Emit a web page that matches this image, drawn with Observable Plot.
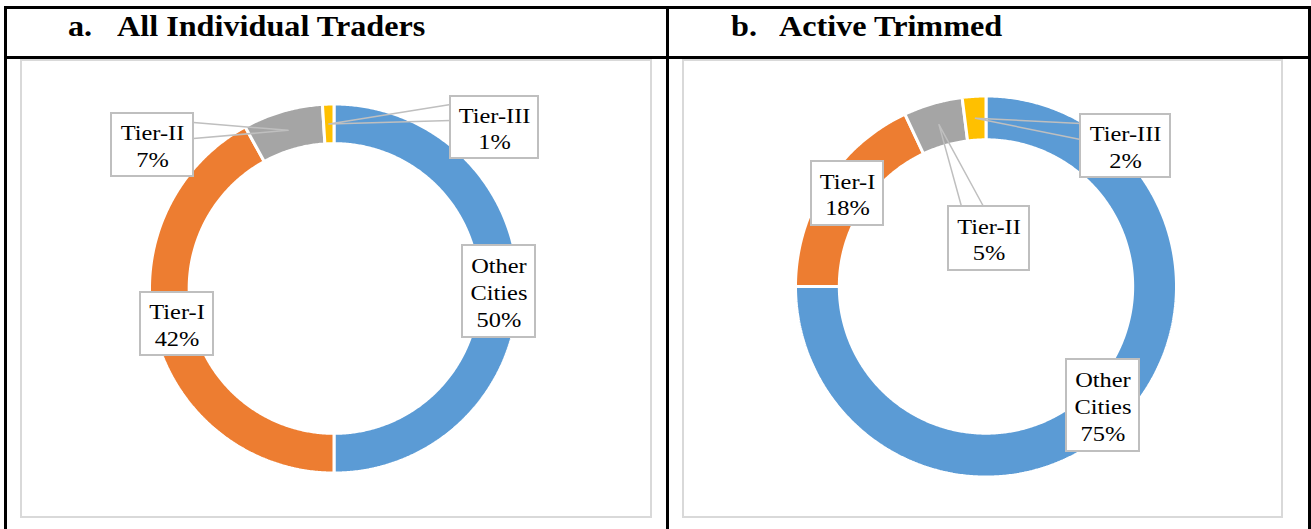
<!DOCTYPE html>
<html>
<head>
<meta charset="utf-8">
<script src="https://cdn.jsdelivr.net/npm/d3@7"></script>
<script src="https://cdn.jsdelivr.net/npm/@observablehq/plot@0.6"></script>
<style>
  html, body { margin: 0; padding: 0; background: #fff; }
  #page { position: relative; width: 1311px; height: 529px; overflow: hidden; font-family: "Liberation Serif", "Times New Roman", serif; }
  .bline { position: absolute; background: #000; }
  .gbox { position: absolute; border: 2px solid #D9D9D9; box-sizing: border-box; }
  .title { position: absolute; font-weight: bold; font-size: 29px; line-height: 1; white-space: nowrap; color: #000; transform: scaleX(1.11); transform-origin: 0 0; }
  .panel { position: absolute; }
</style>
</head>
<body>
<div id="page"></div>
<script>
// ---- data ----
const categories = ["Other Cities", "Tier-I", "Tier-II", "Tier-III"];
const allTraders = [50, 42, 7, 1];
const activeTrimmed = [75, 18, 5, 2];
const colors = ["#5B9BD5", "#ED7D31", "#A5A5A5", "#FFC000"];
const panelLetters = ["a.", "b."];
const panelTitles = ["All Individual Traders", "Active Trimmed"];

// ---- layout (page pixels) ----
const layouts = [
  {
    values: allTraders,
    box: [20, 59, 652, 518],
    letterX: 68, titleX: 117,
    cx: 333.5, cy: 288, r: 184.5, inner: 0.785,
    labels: [
      {box: [462, 245, 535, 337]},
      {box: [140, 292, 213, 355]},
      {box: [111, 113, 193, 176], leader: [[193, 122], [193, 138]]},
      {box: [450, 96, 538, 158], leader: [[450, 104], [450, 120]]}
    ]
  },
  {
    values: activeTrimmed,
    box: [682, 59, 1283, 518],
    letterX: 731, titleX: 779,
    cx: 985.5, cy: 286, r: 190.5, inner: 0.77,
    labels: [
      {box: [1066, 359, 1139, 451]},
      {box: [811, 161, 883, 225]},
      {box: [948, 206, 1029, 270], leader: [[961, 206], [983, 206]]},
      {box: [1080, 114, 1170, 177], leader: [[1080, 123], [1080, 139]]}
    ]
  }
];

const page = document.getElementById("page");
function line(l, t, w, h) {
  const d = document.createElement("div");
  d.className = "bline";
  Object.assign(d.style, {left: l + "px", top: t + "px", width: w + "px", height: h + "px"});
  page.appendChild(d);
}
// table lines
line(4, 6, 1307, 2.5);
line(4, 56, 1307, 2.5);
line(4, 6, 2.5, 523);
line(666, 6, 2.5, 523);
line(1308, 6, 2.5, 523);

layouts.forEach((L, pi) => {
  // titles
  const a = document.createElement("div");
  a.className = "title"; a.textContent = panelLetters[pi];
  a.style.left = L.letterX + "px"; a.style.top = "11.5px";
  page.appendChild(a);
  const t = document.createElement("div");
  t.className = "title"; t.textContent = panelTitles[pi];
  t.style.left = L.titleX + "px"; t.style.top = "11.5px";
  page.appendChild(t);

  const [bx0, by0, bx1, by1] = L.box;
  const W = bx1 - bx0, H = by1 - by0;
  const g = document.createElement("div");
  g.className = "gbox";
  Object.assign(g.style, {left: bx0 + "px", top: by0 + "px", width: W + "px", height: H + "px"});
  page.appendChild(g);

  const cx = L.cx - bx0, cy = L.cy - by0, r = L.r;
  const ux = px => (px - L.cx) / r;
  const uy = py => (L.cy - py) / r;

  const total = d3.sum(L.values);
  let cum = 0;
  const slices = L.values.map((v, i) => {
    const a0 = cum / total * 2 * Math.PI;
    cum += v;
    const a1 = cum / total * 2 * Math.PI;
    const n = Math.max(2, Math.ceil((a1 - a0) / (Math.PI / 360)));
    const pts = [];
    for (let k = 0; k <= n; k++) {
      const a = a0 + (a1 - a0) * k / n;
      pts.push({x: Math.sin(a), y: Math.cos(a)});
    }
    for (let k = n; k >= 0; k--) {
      const a = a0 + (a1 - a0) * k / n;
      pts.push({x: L.inner * Math.sin(a), y: L.inner * Math.cos(a)});
    }
    const mid = (a0 + a1) / 2, rm = (1 + L.inner) / 2;
    return {i, pts, anchor: {x: rm * Math.sin(mid), y: rm * Math.cos(mid)}};
  });

  const labelRows = categories.map((c, i) => {
    const lb = L.labels[i].box;
    return {
      text: c.replace(" ", "\n") + "\n" + L.values[i] + "%",
      x1: ux(lb[0]), x2: ux(lb[2]), y1: uy(lb[1]), y2: uy(lb[3]),
      cx: ux((lb[0] + lb[2]) / 2), cy: uy((lb[1] + lb[3]) / 2)
    };
  });

  const leaders = [];
  L.labels.forEach((lab, i) => {
    if (!lab.leader) return;
    const an = slices[i].anchor;
    const [p, q] = lab.leader;
    leaders.push({x: ux(p[0]), y: uy(p[1]), i});
    leaders.push({x: an.x, y: an.y, i});
    leaders.push({x: ux(q[0]), y: uy(q[1]), i});
  });

  const marks = slices.map(s => Plot.line(s.pts, {
    x: "x", y: "y", curve: "linear-closed",
    fill: colors[s.i], stroke: "#fff", strokeWidth: 3, strokeLinejoin: "miter"
  }));
  marks.push(Plot.line(leaders, {x: "x", y: "y", z: "i", stroke: "#BFBFBF", strokeWidth: 1.5}));
  marks.push(Plot.rect(labelRows, {x1: "x1", x2: "x2", y1: "y1", y2: "y2", fill: "#fff", stroke: "#BFBFBF", strokeWidth: 2}));
  marks.push(Plot.text(labelRows, {
    x: "cx", y: "cy", text: "text", fontSize: 20, lineHeight: 1.33,
    fill: "#000", fontFamily: "Liberation Serif, Times New Roman, serif", textAnchor: "middle", lineAnchor: "middle",
    className: "lbl"
  }));

  const chart = Plot.plot({
    width: W, height: H, margin: 0,
    x: {domain: [-1, 1], range: [cx - r, cx + r], axis: null},
    y: {domain: [-1, 1], range: [cy + r, cy - r], axis: null},
    style: {background: "transparent", overflow: "visible"},
    marks
  });
  chart.classList.add("panel");
  Object.assign(chart.style, {left: bx0 + "px", top: by0 + "px"});
  page.appendChild(chart);

  // widen label glyphs horizontally, as in the reference, around each label's centre
  chart.querySelectorAll("g.lbl text, .lbl text").forEach(el => {
    const bb = el.getBBox();
    const c = bb.x + bb.width / 2;
    const old = el.getAttribute("transform") || "";
    el.setAttribute("transform", `${old} translate(${c},0) scale(1.22,1) translate(${-c},0)`);
  });
});
</script>
</body>
</html>
